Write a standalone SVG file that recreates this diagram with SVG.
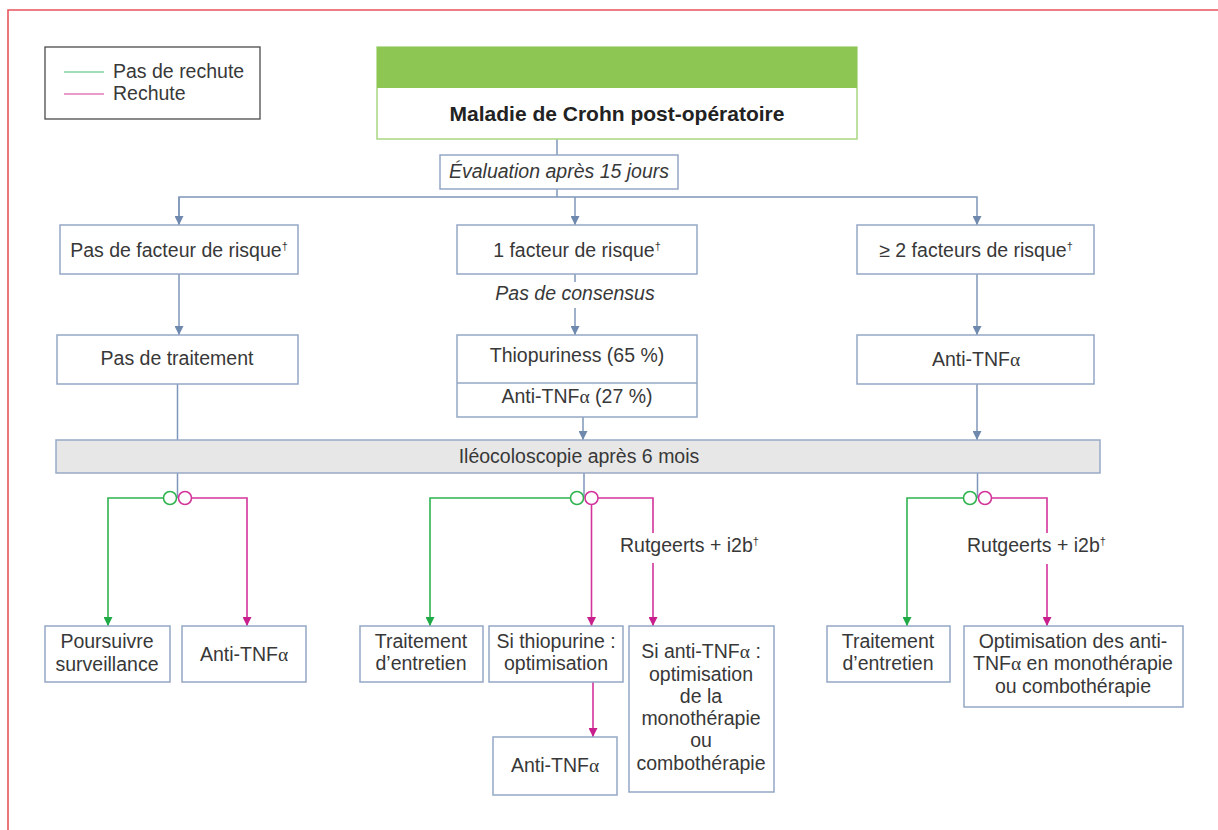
<svg xmlns="http://www.w3.org/2000/svg" width="1218" height="830" viewBox="0 0 1218 830">
<style>
text{font-family:"Liberation Sans",Arial,sans-serif;font-size:19.5px;fill:#383838;text-anchor:middle}
.box{fill:#fff;stroke:#94a7c6;stroke-width:1.5}
.c{fill:none;stroke:#7f96b8;stroke-width:1.5}
.g{fill:none;stroke:#2fb34f;stroke-width:1.6}
.m{fill:none;stroke:#d3349b;stroke-width:1.6}
.it{font-style:italic}
.sup{font-size:11px}
.al{font-family:"Liberation Serif",serif}
</style>
<defs>
<marker id="ab" viewBox="0 0 10 10" refX="10" refY="5" markerWidth="9" markerHeight="9" orient="auto" markerUnits="userSpaceOnUse"><path d="M0,0 L10,5 L0,10 z" fill="#6f88ae"/></marker>
<marker id="ag" viewBox="0 0 10 10" refX="10" refY="5" markerWidth="9" markerHeight="9" orient="auto" markerUnits="userSpaceOnUse"><path d="M0,0 L10,5 L0,10 z" fill="#1faa45"/></marker>
<marker id="am" viewBox="0 0 10 10" refX="10" refY="5" markerWidth="9" markerHeight="9" orient="auto" markerUnits="userSpaceOnUse"><path d="M0,0 L10,5 L0,10 z" fill="#c81f8c"/></marker>
</defs>
<rect width="1218" height="830" fill="#fff"/>
<path d="M8,830 V10 H1218" fill="none" stroke="#e9545c" stroke-width="1.6"/>

<g id="legend">
<rect x="45" y="47" width="215" height="72" fill="#fff" stroke="#4a4a4a" stroke-width="1.3"/>
<line x1="64" y1="72" x2="104" y2="72" stroke="#7ed3a2" stroke-width="1.6"/>
<line x1="64" y1="94" x2="104" y2="94" stroke="#e37ab9" stroke-width="1.6"/>
<text x="113" y="78" style="text-anchor:start">Pas de rechute</text>
<text x="113" y="100" style="text-anchor:start">Rechute</text>
</g>

<g id="connectors">
<path class="c" d="M557,139 V155"/>
<path class="c" d="M557,189 V197"/>
<path class="c" d="M179,225 V197 H977 V225" marker-end="url(#ab)"/>
<path class="c" d="M179,197 V225" marker-end="url(#ab)"/>
<path class="c" d="M575,197 V225" marker-end="url(#ab)"/>
<path class="c" d="M179,274 V335" marker-end="url(#ab)"/>
<path class="c" d="M575,274 V282"/>
<path class="c" d="M575,308 V335" marker-end="url(#ab)"/>
<path class="c" d="M977,274 V335" marker-end="url(#ab)"/>
<path class="c" d="M177.5,384 V440"/>
<path class="c" d="M583,417 V440" marker-end="url(#ab)"/>
<path class="c" d="M977,384 V440" marker-end="url(#ab)"/>
<path class="c" d="M177.5,473 V498"/>
<path class="c" d="M584,473 V498"/>
<path class="c" d="M977.5,473 V498"/>
<path class="g" d="M163.5,498 H108 V626" marker-end="url(#ag)"/>
<path class="m" d="M191.5,498 H247 V626" marker-end="url(#am)"/>
<path class="g" d="M570.5,498 H430 V626" marker-end="url(#ag)"/>
<path class="m" d="M591.5,504.5 V626" marker-end="url(#am)"/>
<path class="m" d="M598,498 H653 V533"/>
<path class="m" d="M653,563 V626" marker-end="url(#am)"/>
<path class="m" d="M593,682 V737" marker-end="url(#am)"/>
<path class="g" d="M963.5,498 H907 V626" marker-end="url(#ag)"/>
<path class="m" d="M991.5,498 H1047 V533"/>
<path class="m" d="M1047,564 V626" marker-end="url(#am)"/>
<circle cx="170" cy="498" r="6.5" fill="#fff" stroke="#2fb34f" stroke-width="1.6"/>
<circle cx="185" cy="498" r="6.5" fill="#fff" stroke="#d3349b" stroke-width="1.6"/>
<circle cx="577" cy="498" r="6.5" fill="#fff" stroke="#2fb34f" stroke-width="1.6"/>
<circle cx="591.5" cy="498" r="6.5" fill="#fff" stroke="#d3349b" stroke-width="1.6"/>
<circle cx="970" cy="498" r="6.5" fill="#fff" stroke="#2fb34f" stroke-width="1.6"/>
<circle cx="985" cy="498" r="6.5" fill="#fff" stroke="#d3349b" stroke-width="1.6"/>
<text x="575" y="300" class="it">Pas de consensus</text>
<text x="620" y="552" style="text-anchor:start">Rutgeerts + i2b<tspan class="sup" dy="-7">†</tspan></text>
<text x="967" y="552" style="text-anchor:start">Rutgeerts + i2b<tspan class="sup" dy="-7">†</tspan></text>
</g>

<g id="title">
<rect x="377" y="47" width="480" height="92" fill="#fff" stroke="#a9d782" stroke-width="1.5"/>
<rect x="377" y="47" width="480" height="41" fill="#8dc652"/>
<text x="617" y="121" style="font-weight:bold;font-size:21px;fill:#222">Maladie de Crohn post-opératoire</text>
</g>

<g id="evaluation">
<rect class="box" x="440" y="155" width="238" height="34"/>
<text x="559" y="178" class="it">Évaluation après 15 jours</text>
</g>

<g id="risk0">
<rect class="box" x="60" y="225" width="238" height="49"/>
<text x="179" y="257">Pas de facteur de risque<tspan class="sup" dy="-7">†</tspan></text>
</g>
<g id="risk1">
<rect class="box" x="457" y="225" width="240" height="49"/>
<text x="577" y="257">1 facteur de risque<tspan class="sup" dy="-7">†</tspan></text>
</g>
<g id="risk2">
<rect class="box" x="857" y="225" width="237" height="49"/>
<text x="976" y="257">≥ 2 facteurs de risque<tspan class="sup" dy="-7">†</tspan></text>
</g>

<g id="notreat">
<rect class="box" x="57" y="335" width="241" height="49"/>
<text x="177" y="365">Pas de traitement</text>
</g>
<g id="thio">
<rect class="box" x="457" y="335" width="240" height="82"/>
<line x1="457" y1="383" x2="697" y2="383" stroke="#94a7c6" stroke-width="1.5"/>
<text x="577" y="362">Thiopuriness (65 %)</text>
<text x="577" y="403">Anti-TNF<tspan class="al">α</tspan> (27 %)</text>
</g>
<g id="antitnf-right">
<rect class="box" x="857" y="335" width="237" height="49"/>
<text x="976" y="366">Anti-TNF<tspan class="al">α</tspan></text>
</g>

<g id="ileo">
<rect x="56" y="440" width="1044" height="33" fill="#e7e7e7" stroke="#98a9c6" stroke-width="1.5"/>
<text x="579" y="463">Iléocoloscopie après 6 mois</text>
</g>

<g id="poursuivre">
<rect class="box" x="45" y="626" width="125" height="56"/>
<text x="107" y="648">Poursuivre</text>
<text x="107" y="671">surveillance</text>
</g>
<g id="antitnf-left">
<rect class="box" x="182" y="626" width="124" height="56"/>
<text x="244" y="661">Anti-TNF<tspan class="al">α</tspan></text>
</g>
<g id="entretien-mid">
<rect class="box" x="360" y="626" width="123" height="56"/>
<text x="421" y="648">Traitement</text>
<text x="421" y="670">d’entretien</text>
</g>
<g id="sithio">
<rect class="box" x="489" y="626" width="134" height="56"/>
<text x="556" y="648">Si thiopurine :</text>
<text x="556" y="670">optimisation</text>
</g>
<g id="siantitnf">
<rect class="box" x="629" y="626" width="145" height="166"/>
<text x="701" y="658">Si anti-TNF<tspan class="al">α</tspan> :</text>
<text x="701" y="681">optimisation</text>
<text x="701" y="703">de la</text>
<text x="701" y="725">monothérapie</text>
<text x="701" y="747">ou</text>
<text x="701" y="770">combothérapie</text>
</g>
<g id="antitnf-bottom">
<rect class="box" x="493" y="737" width="124" height="58"/>
<text x="555" y="772">Anti-TNF<tspan class="al">α</tspan></text>
</g>
<g id="entretien-right">
<rect class="box" x="827" y="626" width="123" height="56"/>
<text x="888" y="648">Traitement</text>
<text x="888" y="670">d’entretien</text>
</g>
<g id="optimisation">
<rect class="box" x="964" y="626" width="219" height="81"/>
<text x="1073" y="648">Optimisation des anti-</text>
<text x="1073" y="670">TNF<tspan class="al">α</tspan> en monothérapie</text>
<text x="1073" y="693">ou combothérapie</text>
</g>
</svg>
